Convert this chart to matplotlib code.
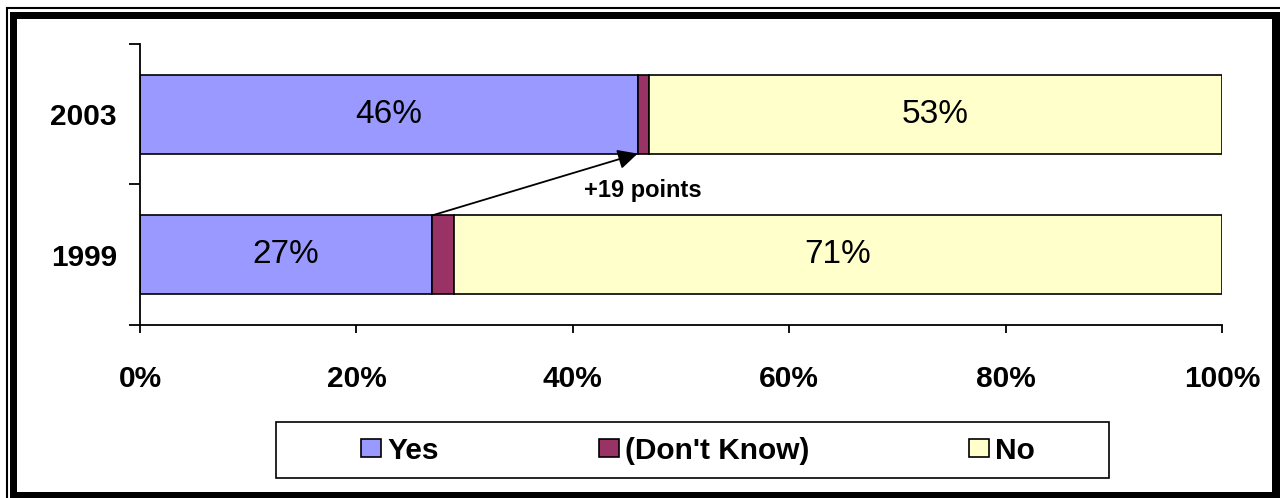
import matplotlib
matplotlib.use("Agg")
import matplotlib.pyplot as plt
from matplotlib.patches import Rectangle, Patch

plt.rcParams['font.family'] = ['Liberation Sans', 'DejaVu Sans']

years = ["1999", "2003"]
yes = [27, 46]
dont_know = [2, 1]
no = [71, 53]
series_names = ["Yes", "(Don't Know)", "No"]
colors = ["#9999FF", "#993366", "#FFFFCC"]
xticks = [0, 20, 40, 60, 80, 100]
xtick_labels = ["0%", "20%", "40%", "60%", "80%", "100%"]

W, H = 1280, 498
fig = plt.figure(figsize=(W / 100, H / 100), dpi=100)

def fx(px):
    return px / W

def fy(py):
    return 1 - py / H

def rect_px(x0, y0, x1, y1, **kw):
    fig.patches.append(Rectangle((fx(x0), fy(y1)), fx(x1) - fx(x0), fy(y0) - fy(y1),
                                 transform=fig.transFigure, **kw))

# thin outer line
rect_px(6.5, 8, 1290, 1290, fill=False, edgecolor='black', linewidth=1.5)
# thick inner frame
rect_px(10, 12, 17, 498, facecolor='black', edgecolor='none')
rect_px(10, 12, 1280, 19, facecolor='black', edgecolor='none')
rect_px(1272, 12, 1280, 498, facecolor='black', edgecolor='none')
rect_px(10, 492, 1280, 498, facecolor='black', edgecolor='none')

# legend box
rect_px(276, 422, 1109, 478, fill=False, edgecolor='black', linewidth=1.2)

ax = fig.add_axes([fx(140), fy(325), fx(1222) - fx(140), fy(44) - fy(325)])

ypos = list(range(len(years)))
bar_h = 0.56
left = [0] * len(years)
for vals, name, col in zip([yes, dont_know, no], series_names, colors):
    ax.barh(ypos, vals, left=left, height=bar_h, color=col, edgecolor='black',
            linewidth=1.2, label=name, zorder=2)
    left = [l + v for l, v in zip(left, vals)]

for i in ypos:
    ax.text(yes[i] / 2, i, f"{yes[i]}%", ha='center', va='center', fontsize=24, zorder=3)
    start_no = yes[i] + dont_know[i]
    ax.text(start_no + no[i] / 2, i, f"{no[i]}%", ha='center', va='center', fontsize=24, zorder=3)

ax.set_xlim(0, 100)
ax.set_ylim(-0.5, 1.5)

ax.annotate("", xy=(yes[1], 1 - bar_h / 2), xytext=(yes[0], 0 + bar_h / 2),
            arrowprops=dict(arrowstyle='-|>', mutation_scale=30, lw=1.3, color='black',
                            shrinkA=0, shrinkB=0), zorder=4)
ax.text(46.5, 0.457, f"+{yes[1] - yes[0]} points", ha='center', va='center',
        fontsize=17, fontweight='bold')

for s in ['top', 'right']:
    ax.spines[s].set_visible(False)
for s in ['left', 'bottom']:
    ax.spines[s].set_linewidth(1.3)

ax.set_xticks(xticks)
ax.set_xticklabels(xtick_labels, fontsize=21.5, fontweight='bold')
ax.tick_params(axis='x', length=6, width=1.3, pad=22.8)

ax.set_yticks([-0.5, 0.5, 1.5])
ax.set_yticklabels([])
ax.tick_params(axis='y', length=8, width=1.3)
ax.set_yticks(ypos, minor=True)
ax.set_yticklabels(years, minor=True, fontsize=21.5, fontweight='bold')
ax.tick_params(axis='y', which='minor', length=0, pad=16.5)

handles = [Patch(facecolor=c, edgecolor='black', linewidth=1.2) for c in colors]
leg = fig.legend(handles, series_names, loc='center', bbox_to_anchor=(fx(698), fy(450.5)),
                 ncol=3, frameon=False,
                 prop={'size': 21.5, 'weight': 'bold'},
                 handlelength=0.67, handleheight=0.57, handletextpad=0.2,
                 columnspacing=5.35, borderpad=0.35, borderaxespad=0)

fig.savefig("out.png", dpi=100)
